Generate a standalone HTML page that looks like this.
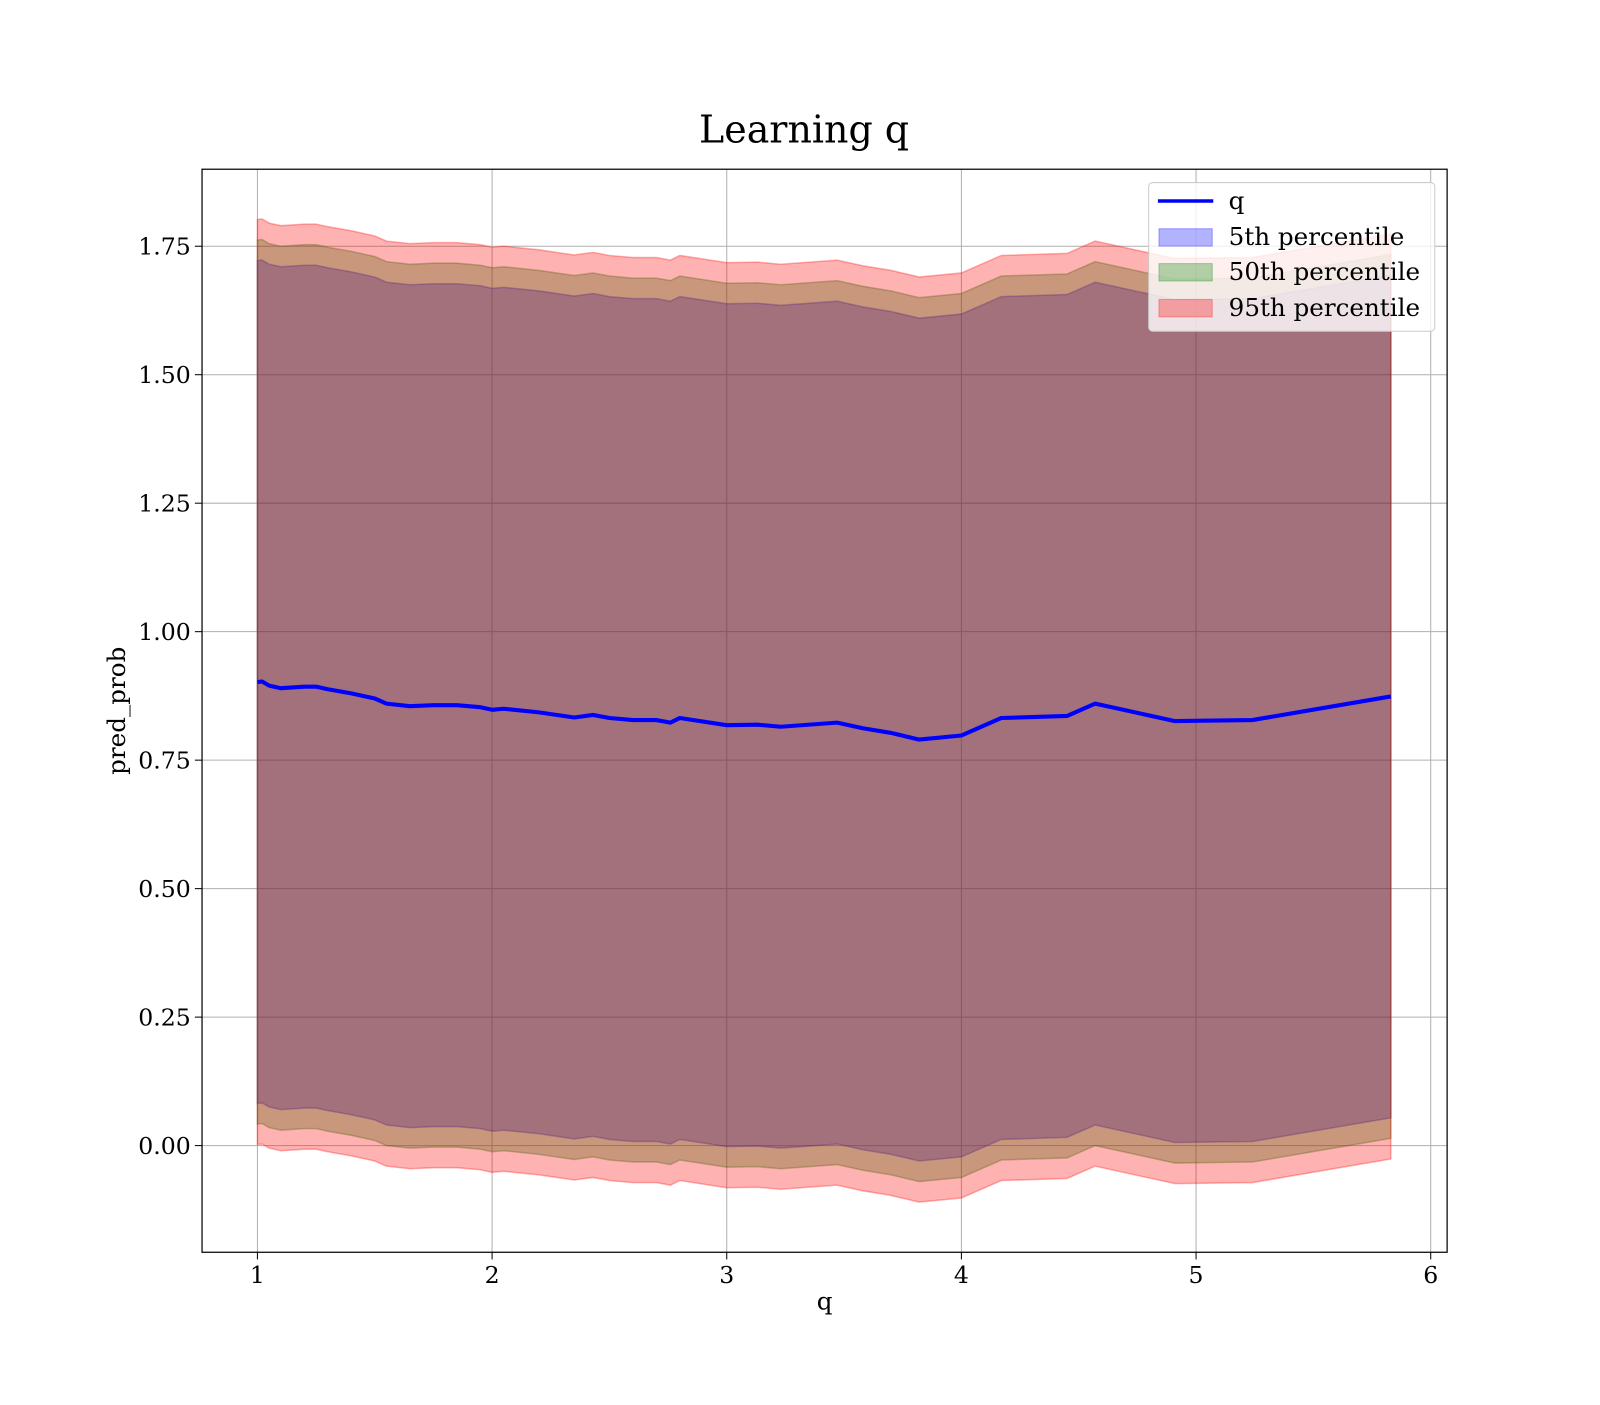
<!DOCTYPE html>
<html><head><meta charset="utf-8"><style>
body{margin:0;background:#fff}
svg text{font-family:"DejaVu Serif","Liberation Serif",serif;fill:#000}
</style></head><body>
<svg id="chart" width="1600" height="1400" xmlns="http://www.w3.org/2000/svg">
<rect width="1600" height="1400" fill="#fff"/>
<g transform="scale(1.0256)">
<text x="784" y="139" font-size="37" text-anchor="middle">Learning q</text>
<g id="grid"></g>
<g id="bands"></g>
<g id="lines"></g>
<rect x="197" y="165" width="1214" height="1056" fill="none" stroke="#000" stroke-width="1.2"/>
<g id="ticks"></g>
<text x="804" y="1277" font-size="24" text-anchor="middle">q</text>
<text transform="translate(122,693) rotate(-90)" font-size="24" text-anchor="middle">pred_prob</text>
<g>
<rect x="1120" y="178" width="279" height="145" rx="4" fill="#fff" fill-opacity="0.8" stroke="#ccc"/>
<line x1="1129" y1="196" x2="1183" y2="196" stroke="#0000ff" stroke-width="3.5"/>
<text x="1198" y="204" font-size="24">q</text>
<rect x="1130" y="223" width="52" height="17" fill="#0000ff" fill-opacity="0.3" stroke="#0000ff" stroke-opacity="0.3"/>
<text x="1198" y="239" font-size="24">5th percentile</text>
<rect x="1130" y="257" width="52" height="17" fill="#008000" fill-opacity="0.3" stroke="#008000" stroke-opacity="0.3"/>
<text x="1198" y="273" font-size="24">50th percentile</text>
<rect x="1130" y="292" width="52" height="17" fill="#ff0000" fill-opacity="0.3" stroke="#ff0000" stroke-opacity="0.3"/>
<text x="1198" y="308" font-size="24">95th percentile</text>
</g>
</g>
</svg>
<script>
const qx=[1.0,1.02,1.05,1.1,1.2,1.25,1.3,1.4,1.5,1.55,1.65,1.75,1.85,1.95,2.0,2.05,2.2,2.35,2.43,2.5,2.6,2.7,2.76,2.8,3.0,3.13,3.23,3.47,3.58,3.7,3.82,4.0,4.17,4.45,4.57,4.91,5.24,5.83];
const qMean=[0.902,0.903,0.895,0.890,0.893,0.893,0.888,0.880,0.870,0.860,0.855,0.857,0.857,0.853,0.848,0.850,0.843,0.833,0.838,0.832,0.828,0.828,0.823,0.832,0.818,0.819,0.815,0.823,0.812,0.803,0.790,0.798,0.832,0.836,0.860,0.826,0.828,0.874];
const p5Upper=[1.722,1.723,1.715,1.710,1.713,1.713,1.708,1.700,1.690,1.680,1.675,1.677,1.677,1.673,1.668,1.670,1.663,1.653,1.658,1.652,1.648,1.648,1.643,1.652,1.638,1.639,1.635,1.643,1.632,1.623,1.610,1.618,1.652,1.656,1.680,1.646,1.648,1.694];
const p5Lower=[0.082,0.083,0.075,0.070,0.073,0.073,0.068,0.060,0.050,0.040,0.035,0.037,0.037,0.033,0.028,0.030,0.023,0.013,0.018,0.012,0.008,0.008,0.003,0.012,-0.002,-0.001,-0.005,0.003,-0.008,-0.017,-0.030,-0.022,0.012,0.016,0.040,0.006,0.008,0.054];
const p50Upper=[1.762,1.763,1.755,1.750,1.753,1.753,1.748,1.740,1.730,1.720,1.715,1.717,1.717,1.713,1.708,1.710,1.703,1.693,1.698,1.692,1.688,1.688,1.683,1.692,1.678,1.679,1.675,1.683,1.672,1.663,1.650,1.658,1.692,1.696,1.720,1.686,1.688,1.734];
const p50Lower=[0.042,0.043,0.035,0.030,0.033,0.033,0.028,0.020,0.010,0.000,-0.005,-0.003,-0.003,-0.007,-0.012,-0.010,-0.017,-0.027,-0.022,-0.028,-0.032,-0.032,-0.037,-0.028,-0.042,-0.041,-0.045,-0.037,-0.048,-0.057,-0.070,-0.062,-0.028,-0.024,0.000,-0.034,-0.032,0.014];
const p95Upper=[1.802,1.803,1.795,1.790,1.793,1.793,1.788,1.780,1.770,1.760,1.755,1.757,1.757,1.753,1.748,1.750,1.743,1.733,1.738,1.732,1.728,1.728,1.723,1.732,1.718,1.719,1.715,1.723,1.712,1.703,1.690,1.698,1.732,1.736,1.760,1.726,1.728,1.774];
const p95Lower=[0.002,0.003,-0.005,-0.010,-0.007,-0.007,-0.012,-0.020,-0.030,-0.040,-0.045,-0.043,-0.043,-0.047,-0.052,-0.050,-0.057,-0.067,-0.062,-0.068,-0.072,-0.072,-0.077,-0.068,-0.082,-0.081,-0.085,-0.077,-0.088,-0.097,-0.110,-0.102,-0.068,-0.064,-0.040,-0.074,-0.072,-0.026];
const xTicks=[1,2,3,4,5,6];
const yTicks=[0,0.25,0.5,0.75,1.0,1.25,1.5,1.75];
const yTickLabels=["0.00","0.25","0.50","0.75","1.00","1.25","1.50","1.75"];

const NS="http://www.w3.org/2000/svg";
function sx(v){return 251+(v-1)*228.8;}
function sy(v){return 1117-v*501.1;}
function mk(tag,attrs,parent){const e=document.createElementNS(NS,tag);for(const k in attrs)e.setAttribute(k,attrs[k]);parent.appendChild(e);return e;}
const grid=document.getElementById('grid'),ticks=document.getElementById('ticks');
xTicks.forEach(t=>{
  const g=mk('line',{x1:sx(t),x2:sx(t),y1:165,y2:1221,stroke:'#b0b0b0','stroke-width':1},grid);
  
  
  const tk=mk('line',{x1:sx(t),x2:sx(t),y1:1221,y2:1228,stroke:'#000','stroke-width':1},ticks);
  
  
  const tx=mk('text',{x:sx(t),y:1251,'font-size':23,'text-anchor':'middle'},ticks);
  tx.textContent=t;
  
  
});
yTicks.forEach((t,i)=>{
  const g=mk('line',{x1:197,x2:1411,y1:sy(t),y2:sy(t),stroke:'#b0b0b0','stroke-width':1},grid);
  
  
  const tk=mk('line',{x1:190,x2:197,y1:sy(t),y2:sy(t),stroke:'#000','stroke-width':1},ticks);
  
  
  const tx=mk('text',{x:186,y:sy(t)+8,'font-size':23,'text-anchor':'end'},ticks);
  tx.textContent=yTickLabels[i];
  
  
});
function band(up,lo,color,name){
  let d='M'+qx.map((x,i)=>sx(x)+','+sy(up[i])).join('L');
  for(let i=qx.length-1;i>=0;i--)d+='L'+sx(qx[i])+','+sy(lo[i]);
  d+='Z';
  const p=mk('path',{d:d,fill:color,'fill-opacity':0.3,stroke:color,'stroke-opacity':0.3,'stroke-width':1.5},document.getElementById('bands'));
  
  
}
band(p5Upper,p5Lower,'#0000ff','band-5th-percentile');
band(p50Upper,p50Lower,'#008000','band-50th-percentile');
band(p95Upper,p95Lower,'#ff0000','band-95th-percentile');
const ln=mk('polyline',{points:qx.map((x,i)=>sx(x)+','+sy(qMean[i])).join(' '),fill:'none',stroke:'#0000ff','stroke-width':4,'stroke-linejoin':'round'},document.getElementById('lines'));


</script>
</body></html>
